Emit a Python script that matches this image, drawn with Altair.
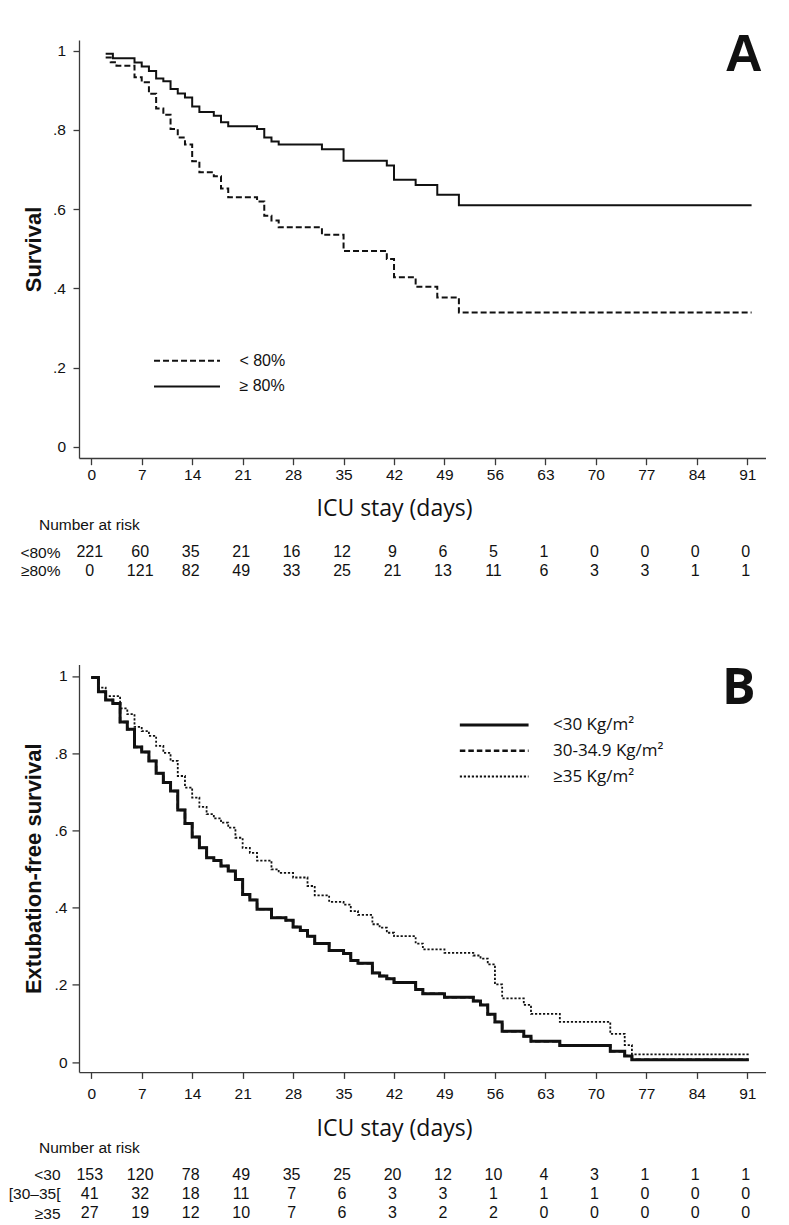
import altair as alt
import pandas as pd

# ---------------- data ----------------
# Panel A : survival by group (step functions)
A_GROUPS = ["< 80%", "≥ 80%"]
A_LO_T = [2, 2.7, 3.5, 6, 7, 8, 9, 10, 11, 12, 13, 14, 15, 17, 18, 19, 23, 24, 25, 26,
          32, 35, 41, 42, 45, 48, 51, 91.6]
A_LO_S = [0.983, 0.971, 0.962, 0.933, 0.920, 0.891, 0.854, 0.838, 0.802, 0.781, 0.763,
          0.721, 0.693, 0.683, 0.652, 0.630, 0.619, 0.583, 0.571, 0.554, 0.535, 0.494,
          0.474, 0.428, 0.404, 0.377, 0.339, 0.339]
A_HI_T = [2, 3, 6, 7, 8, 9, 10, 11, 12, 13, 14, 15, 17, 18, 19, 23, 24, 25, 26, 32, 35,
          41, 42, 45, 48, 51, 91.6]
A_HI_S = [0.992, 0.981, 0.970, 0.960, 0.949, 0.930, 0.923, 0.903, 0.892, 0.882, 0.859,
          0.845, 0.836, 0.819, 0.809, 0.802, 0.781, 0.771, 0.763, 0.751, 0.722, 0.710,
          0.674, 0.661, 0.636, 0.610, 0.610]

# Panel B : extubation-free survival by BMI group
B_GROUPS = ["<30 Kg/m²", "30-34.9 Kg/m²", "≥35 Kg/m²"]
B_LO_T = [0, 1, 2, 3, 4, 5, 6, 7, 8, 9, 10, 11, 12, 13, 14, 15, 16, 17, 18, 19, 20, 21,
          22, 23, 25, 27, 28, 29, 30, 31, 33, 35, 36, 37, 39, 40, 41, 42, 45, 46, 49, 53,
          54, 55, 56, 57, 60, 61, 65, 72, 74, 75, 91.2]
B_LO_S = [0.996, 0.959, 0.938, 0.929, 0.881, 0.862, 0.816, 0.803, 0.780, 0.748, 0.724,
          0.702, 0.653, 0.618, 0.583, 0.555, 0.529, 0.522, 0.508, 0.495, 0.473, 0.434,
          0.420, 0.396, 0.374, 0.367, 0.350, 0.341, 0.326, 0.307, 0.289, 0.281, 0.263,
          0.256, 0.231, 0.223, 0.216, 0.206, 0.188, 0.177, 0.168, 0.158, 0.148, 0.124,
          0.104, 0.080, 0.067, 0.054, 0.043, 0.028, 0.016, 0.006, 0.006]
B_MID_T = [0, 1, 2, 3, 4, 5, 6, 7, 8, 9, 10, 11, 12, 13, 14, 15, 16, 17, 18, 19, 20, 21,
           22, 23, 25, 27, 28, 29, 30, 31, 33, 35, 36, 37, 39, 40, 41, 42, 45, 46, 49, 53,
           54, 55, 56, 57, 60, 61, 65, 72, 74, 75, 91.2]
B_MID_S = [0.996, 0.959, 0.938, 0.929, 0.881, 0.862, 0.816, 0.803, 0.780, 0.748, 0.724,
           0.702, 0.653, 0.618, 0.583, 0.555, 0.529, 0.522, 0.508, 0.495, 0.473, 0.434,
           0.420, 0.396, 0.374, 0.367, 0.350, 0.341, 0.326, 0.307, 0.289, 0.281, 0.263,
           0.256, 0.231, 0.223, 0.216, 0.206, 0.188, 0.177, 0.168, 0.158, 0.148, 0.124,
           0.104, 0.080, 0.067, 0.054, 0.043, 0.028, 0.016, 0.006, 0.006]
B_HI_T = [0, 1, 2, 4, 5, 6, 7, 8, 9, 10, 11, 12, 13, 14, 15, 16, 17, 18, 19, 20, 21, 22,
          23, 25, 26, 28, 30, 31, 33, 35, 36, 37, 39, 40, 41, 42, 45, 46, 49, 53, 54, 55,
          56, 57, 60, 61, 65, 72, 74, 75, 91.2]
B_HI_S = [0.996, 0.970, 0.948, 0.916, 0.901, 0.868, 0.857, 0.845, 0.819, 0.801, 0.780,
          0.741, 0.711, 0.685, 0.661, 0.642, 0.631, 0.620, 0.607, 0.581, 0.555, 0.542,
          0.522, 0.499, 0.490, 0.478, 0.456, 0.432, 0.415, 0.408, 0.391, 0.381, 0.357,
          0.348, 0.335, 0.326, 0.307, 0.292, 0.283, 0.276, 0.268, 0.253, 0.201, 0.165,
          0.148, 0.125, 0.104, 0.073, 0.044, 0.020, 0.020]

# Number at risk tables
RISK_DAYS = [0, 7, 14, 21, 28, 35, 42, 49, 56, 63, 70, 77, 84, 91]
A_RISK_LABELS = ["<80%", "≥80%"]
A_RISK = [[221, 60, 35, 21, 16, 12, 9, 6, 5, 1, 0, 0, 0, 0],
          [0, 121, 82, 49, 33, 25, 21, 13, 11, 6, 3, 3, 1, 1]]
B_RISK_LABELS = ["<30", "[30–35[", "≥35"]
B_RISK = [[153, 120, 78, 49, 35, 25, 20, 12, 10, 4, 3, 1, 1, 1],
          [41, 32, 18, 11, 7, 6, 3, 3, 1, 1, 1, 0, 0, 0],
          [27, 19, 12, 10, 7, 6, 3, 2, 2, 0, 0, 0, 0, 0]]

PANEL_LETTERS = ["A", "B"]
Y_TICKS = [0, 0.2, 0.4, 0.6, 0.8, 1]
X_TITLE = "ICU stay (days)"

# ---------------- tables ----------------
def curves(groups, ts, ss):
    rows = []
    for g, t, s in zip(groups, ts, ss):
        for ti, si in zip(t, s):
            rows.append({"g": g, "t": ti, "s": si})
    return pd.DataFrame(rows)


def risk(labels, counts):
    rows = []
    for lab, cs in zip(labels, counts):
        for d, c in zip(RISK_DAYS, cs):
            rows.append({"row": lab, "day": d, "n": str(c)})
    return pd.DataFrame(rows)


dfA = curves(A_GROUPS, [A_LO_T, A_HI_T], [A_LO_S, A_HI_S])
dfB = curves(B_GROUPS, [B_LO_T, B_MID_T, B_HI_T], [B_LO_S, B_MID_S, B_HI_S])
rkA = risk(A_RISK_LABELS, A_RISK)
rkB = risk(B_RISK_LABELS, B_RISK)

# ---------------- styling / layout ----------------
W = 687
XSCALE = alt.Scale(domain=[-1.7, 93.6], nice=False, zero=False)
INK = "#111111"
AX = "#3a3a3a"
SANS = "Liberation Sans, Arial, sans-serif"
CAL = "Open Sans, Noto Sans, sans-serif"
YLAB = ("datum.value == 0 ? '0' : datum.value == 1 ? '1' : "
        "replace(format(datum.value, '.1f'), '0.', '.')")


def km_plot(df, groups, dashes, widths, ydom, height, ytitle, letter, letter_font,
            letter_size, letter_x, letter_y, xlab_pad, xtick, ylab_pad, ytick,
            xtitle_y, legend):
    lines = alt.Chart(df).mark_line(
        interpolate="step-after", color=INK, strokeCap="butt"
    ).encode(
        x=alt.X("t:Q", scale=XSCALE, axis=alt.Axis(
            values=RISK_DAYS, title=X_TITLE, grid=False,
            domainColor=AX, domainWidth=1.3, tickColor=AX, tickWidth=1.3, tickSize=xtick,
            labelFont=SANS, labelFontSize=15.5, labelColor=INK, labelPadding=xlab_pad,
            labelBaseline="middle", labelFlush=False,
            titleFont=CAL, titleFontSize=23, titleFontWeight="normal", titleColor=INK,
            titleX=393.5 - 78.5, titleY=xtitle_y, titleBaseline="middle",
            titleAlign="center")),
        y=alt.Y("s:Q", scale=alt.Scale(domain=ydom, nice=False, zero=False),
                axis=alt.Axis(
                    values=Y_TICKS, labelExpr=YLAB, title=ytitle, grid=False,
                    domainColor=AX, domainWidth=1.3, tickColor=AX, tickWidth=1.3,
                    tickSize=ytick, labelFont=SANS, labelFontSize=15.5, labelColor=INK,
                    labelPadding=ylab_pad, titleFont=SANS, titleFontSize=22,
                    titleFontWeight="bold", titleColor=INK, titleX=-46,
                    titleY=height / 2, titleBaseline="middle", titleAlign="center",
                    titleAngle=270)),
        strokeDash=alt.StrokeDash("g:N", scale=alt.Scale(domain=groups, range=dashes),
                                  legend=legend),
        strokeWidth=alt.StrokeWidth("g:N", scale=alt.Scale(domain=groups, range=widths),
                                    legend=None),
    )
    lab = alt.Chart(pd.DataFrame({"L": [letter]})).mark_text(
        align="right", baseline="alphabetic", font=letter_font, fontSize=letter_size,
        fontWeight="bold", color=INK
    ).encode(text="L:N", x=alt.value(letter_x), y=alt.value(letter_y))
    return alt.layer(lines, lab).properties(width=W, height=height)


def risk_table(df, labels, height, pad, align, title_offset):
    return alt.Chart(df).mark_text(
        font=SANS, fontSize=16, color=INK, dx=-1.5, baseline="middle"
    ).encode(
        x=alt.X("day:Q", scale=XSCALE, axis=None),
        y=alt.Y("row:N", scale=alt.Scale(type="point", domain=labels, padding=pad,
                                         align=align),
                axis=alt.Axis(title=None, domain=False, ticks=False, labelPadding=19,
                              labelFont=SANS, labelFontSize=15.5, labelColor=INK,
                              labelAlign="right", labelBaseline="middle")),
        text="n:N",
    ).properties(width=W, height=height, title=alt.TitleParams(
        "Number at risk", anchor="start", frame="group", dx=-40, offset=title_offset,
        baseline="middle", font=SANS, fontSize=15.5, fontWeight="normal", color=INK))


legA = alt.Legend(orient="none", legendX=100, legendY=312.7, title=None,
                  symbolType="M-5,0H5", symbolSize=174, symbolStrokeWidth=2,
                  symbolStrokeColor=INK, symbolOffset=0, labelOffset=44.4,
                  labelFont=SANS, labelFontSize=16, labelColor=INK, rowPadding=9.7,
                  padding=0)
legB = alt.Legend(orient="none", legendX=406.7, legendY=52.2, title=None,
                  symbolType="M-5,0H5", symbolSize=189, symbolStrokeWidth=2.5,
                  symbolStrokeColor=INK, symbolOffset=0, labelOffset=50.3,
                  labelFont=CAL, labelFontSize=17, labelColor=INK, rowPadding=7.7,
                  padding=0)

plotA = km_plot(dfA, A_GROUPS, [[6, 3], [1, 0]], [2, 2], [-0.0285, 1.027], 418,
                "Survival", PANEL_LETTERS[0], SANS, 52, 683.5, 30.7,
                9.7, 6.7, 7.5, 6, 50.7, legA)
plotB = km_plot(dfB, B_GROUPS, [[1, 0], [5.5, 3], [2.2, 1.8]], [3, 1.8, 2.3],
                [-0.026, 1.03], 407.7, "Extubation-free survival", PANEL_LETTERS[1],
                CAL, 50, 676.5, 40, 14.7, 6.3, 5, 7, 56, legB)
tabA = risk_table(rkA, A_RISK_LABELS, 50.6, 0.88, 0.517, -5)
tabB = risk_table(rkB, B_RISK_LABELS, 70, 0.823, 0.778, -13)

chart = alt.vconcat(
    plotA, tabA, plotB, tabB, spacing=77.7, bounds="flush"
).resolve_scale(
    y="independent", strokeDash="independent", strokeWidth="independent"
).properties(
    padding={"top": 20, "left": 0, "right": 0, "bottom": 0},
    background="white",
).configure_view(stroke=None)

chart.save("out.html", embed_options={"renderer": "svg", "actions": False})
